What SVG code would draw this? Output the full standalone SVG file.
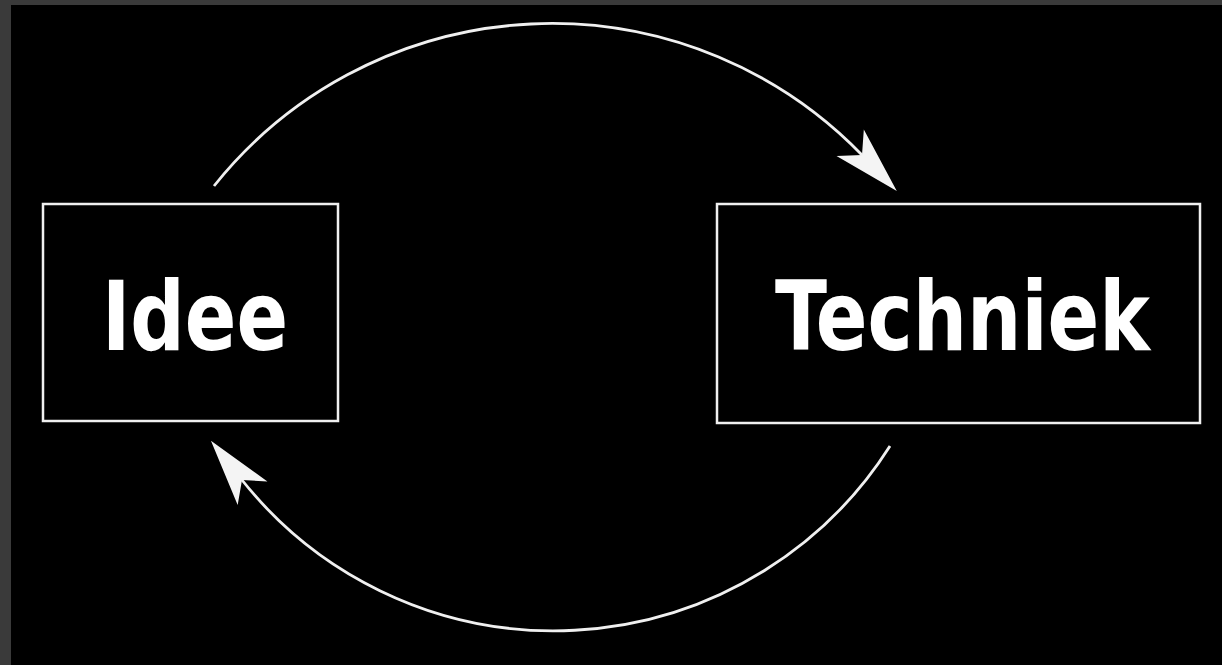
<svg xmlns="http://www.w3.org/2000/svg" width="1222" height="665" viewBox="0 0 1222 665">
  <style>
    .box { fill: none; stroke: #f0f0f0; stroke-width: 2.5; }
    .lbl { fill: #ffffff; font-family: "DejaVu Sans", "Liberation Sans", sans-serif; font-weight: bold; font-stretch: condensed; font-size: 96px; }
    .arc { fill: none; stroke: #f0f0f0; stroke-width: 2.8; }
  </style>
  <defs>
    <marker id="arrow" markerUnits="userSpaceOnUse" viewBox="-20 -22 75 44" refX="0" refY="0" markerWidth="75" markerHeight="44" orient="auto" overflow="visible">
      <path d="M50,0 L-17,-19 L0,0 L-17,19 Z" fill="#f4f4f4"/>
    </marker>
  </defs>
  <rect x="0" y="0" width="1222" height="665" fill="#3a3a3a"/>
  <rect x="11" y="5" width="1211" height="660" fill="#000000"/>
  <g id="idee">
    <rect class="box" x="43" y="204" width="295" height="217"/>
    <text class="lbl" x="102" y="350" textLength="186" lengthAdjust="spacingAndGlyphs">Idee</text>
  </g>
  <g id="techniek">
    <rect class="box" x="717" y="204" width="483" height="219"/>
    <text class="lbl" x="775" y="350" textLength="375" lengthAdjust="spacingAndGlyphs">Techniek</text>
  </g>
  <g id="connectors">
    <path class="arc" d="M214,186 A432,432 0 0,1 862,155" marker-end="url(#arrow)"/>
    <path class="arc" d="M890,446 A398,398 0 0,1 242,480" marker-end="url(#arrow)"/>
  </g>
</svg>
